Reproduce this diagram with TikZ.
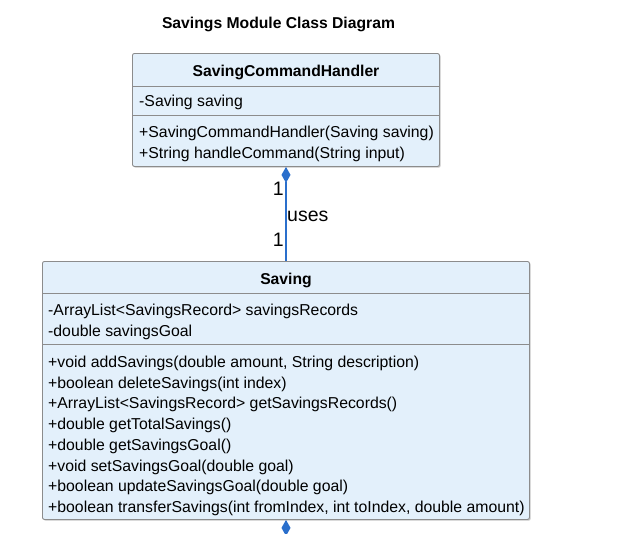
\documentclass[tikz,border=0pt]{standalone}
\usepackage{fontspec}
\setmainfont{Liberation Sans}
\usetikzlibrary{arrows.meta,shadows}
\definecolor{boxfill}{HTML}{E3F0FB}
\definecolor{boxline}{HTML}{8C8C8C}
\definecolor{connblue}{HTML}{2A6FCC}
\begin{document}
\begin{tikzpicture}[x=1pt,y=-1pt]
\tikzset{
 classbox/.style={draw=boxline, fill=boxfill, rounded corners=2pt, line width=0.9pt,
   drop shadow={shadow xshift=1.2pt, shadow yshift=-1.2pt, fill=black!45, opacity=0.5},
   inner sep=0pt, anchor=north west},
 cname/.style={font=\fontsize{15.7}{18}\selectfont\bfseries, anchor=base, inner sep=0pt},
 member/.style={font=\fontsize{15.8}{18}\selectfont, anchor=base west, inner sep=0pt},
 sepline/.style={draw=boxline, line width=0.9pt},
 assoc/.style={draw=connblue, line width=1.2pt},
 mult/.style={font=\fontsize{19.5}{22}\selectfont, inner sep=0pt},
}
\useasboundingbox (0,0) rectangle (634,533);
\node[font=\fontsize{15.7}{18}\selectfont\bfseries, anchor=base, inner sep=0pt] (title) at (278.5,28.5) {Savings Module Class Diagram};

% SavingCommandHandler
\node[classbox, minimum width=307pt, minimum height=113pt] (sch) at (132,53) {};
\draw[sepline] (132,86) -- (439,86);
\draw[sepline] (132,115) -- (439,115);
\node[cname] (schname) at (286,76.5) {SavingCommandHandler};
\node[member] (scha1) at (139,106.5) {-Saving saving};
\node[member] (schm1) at (139,137.5) {+SavingCommandHandler(Saving saving)};
\node[member] (schm2) at (139,158.5) {+String handleCommand(String input)};

% Saving
\node[classbox, minimum width=487pt, minimum height=258pt] (sav) at (42,261) {};
\draw[sepline] (42,293) -- (529,293);
\draw[sepline] (42,344) -- (529,344);
\node[cname] (savname) at (286,284.5) {Saving};
\node[member] (sava1) at (48,315.5) {-ArrayList<SavingsRecord> savingsRecords};
\node[member] (sava2) at (48,336.5) {-double savingsGoal};
\node[member] (savm1) at (48,367.5) {+void addSavings(double amount, String description)};
\node[member] (savm2) at (48,388.2) {+boolean deleteSavings(int index)};
\node[member] (savm3) at (48,408.9) {+ArrayList<SavingsRecord> getSavingsRecords()};
\node[member] (savm4) at (48,429.6) {+double getTotalSavings()};
\node[member] (savm5) at (48,450.3) {+double getSavingsGoal()};
\node[member] (savm6) at (48,471.0) {+void setSavingsGoal(double goal)};
\node[member] (savm7) at (48,491.7) {+boolean updateSavingsGoal(double goal)};
\node[member] (savm8) at (48,512.4) {+boolean transferSavings(int fromIndex, int toIndex, double amount)};

% association
\draw[assoc, {Diamond[length=16pt,width=9pt,fill=connblue]}-] (sch.south -| 286,0) -- (sav.north -| 286,0);
\node[mult, anchor=east] (m1) at (284,189) {1};
\node[mult, anchor=west] (uses) at (287,216) {uses};
\node[mult, anchor=east] (m2) at (284,240) {1};

% outgoing association below Saving (cut off)
\coordinate (below) at (286,560);
\draw[assoc, {Diamond[length=16pt,width=9pt,fill=connblue]}-] (sav.south -| 286,0) -- (below);
\end{tikzpicture}
\end{document}
